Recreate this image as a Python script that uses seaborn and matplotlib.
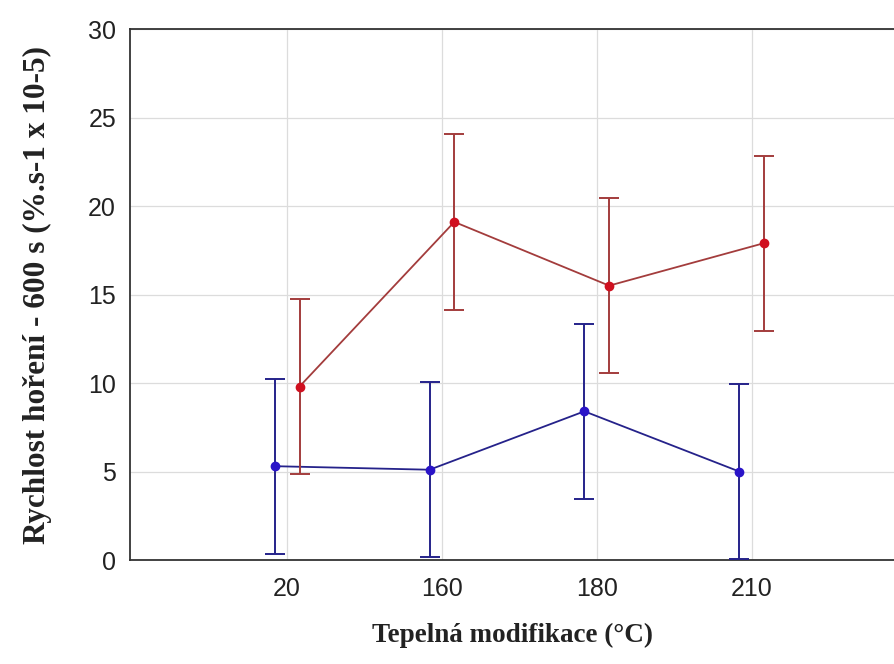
import numpy as np
import pandas as pd
import matplotlib
matplotlib.use("Agg")
import matplotlib.pyplot as plt
import seaborn as sns

categories = ["20", "160", "180", "210"]
blue_mean = [5.3, 5.1, 8.4, 5.0]
red_mean = [9.8, 19.1, 15.5, 17.9]
blue_err = [4.95, 4.95, 4.95, 4.95]
red_err = [4.95, 4.95, 4.95, 4.95]
groups = ["A", "B"]

df = pd.DataFrame({
    "cat": categories * 2,
    "val": blue_mean + red_mean,
    "grp": [groups[0]] * 4 + [groups[1]] * 4,
})

sns.set_theme(style="whitegrid")
fig = plt.figure(figsize=(8.94, 6.64), dpi=100)
ax = fig.add_axes([130 / 894, 1 - 560 / 664, 1 - 130 / 894, (560 - 29) / 664])

line_cols = {"A": "#25228a", "B": "#a33c3c"}
mark_cols = {"A": "#2a14c8", "B": "#d01020"}

sns.pointplot(data=df, x="cat", y="val", hue="grp", order=categories,
              hue_order=groups, dodge=0.16, errorbar=None,
              palette=line_cols, markers="o", markersize=0, linewidth=1.3,
              legend=False, ax=ax)

# error bars + markers at the dodged positions seaborn used
for line, g, means, errs in zip(ax.lines[:2], groups, [blue_mean, red_mean], [blue_err, red_err]):
    xs = line.get_xdata()
    ax.errorbar(xs, means, yerr=errs, fmt="none", ecolor=line_cols[g],
                elinewidth=1.4, capsize=7, capthick=1.4, zorder=3)
    ax.plot(xs, means, "o", color=mark_cols[g], markersize=6, zorder=4)

ax.set_ylim(0, 30)
ax.set_yticks([0, 5, 10, 15, 20, 25, 30])
ax.set_xlim(-1.015, 3.92)
ax.set_facecolor("white")
ax.grid(True, color="#dcdcdc", linewidth=0.9)
for s in ["left", "bottom", "top"]:
    ax.spines[s].set_color("#333333")
    ax.spines[s].set_linewidth(1.3)
ax.spines["right"].set_visible(False)

ax.tick_params(axis="y", colors="#222222", pad=4)
ax.tick_params(axis="x", colors="#222222", pad=6)
for lab in ax.get_xticklabels() + ax.get_yticklabels():
    lab.set_fontfamily("Liberation Sans")
    lab.set_fontsize(18)

ax.set_xlabel("Tepelná modifikace (°C)", fontsize=19.5, fontweight="bold",
              family="Liberation Serif", color="#222222", labelpad=16)
ax.set_ylabel("Rychlost hoření - 600 s (%.s-1 x 10-5)", fontsize=22.5,
              fontweight="bold", family="Liberation Serif", color="#222222",
              labelpad=26)

fig.savefig("out.png", dpi=100)
